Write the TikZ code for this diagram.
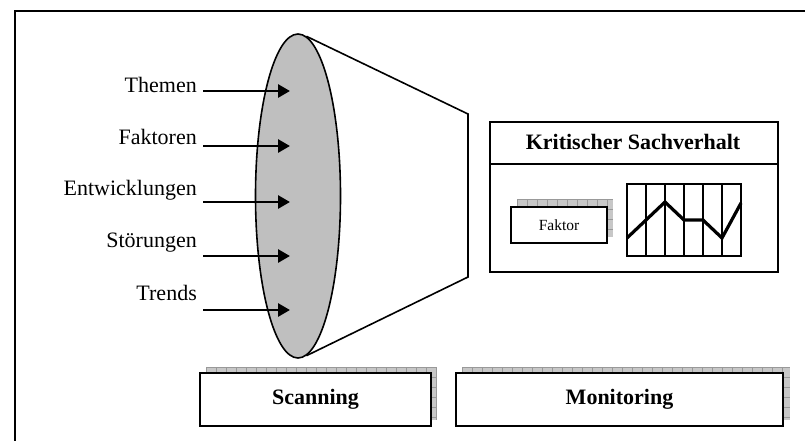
\documentclass[tikz,border=0pt]{standalone}
\usepackage{fontspec}
\setmainfont{Liberation Serif}
\usetikzlibrary{arrows.meta,shapes.geometric}
\tikzset{
  lbl/.style={inner sep=0pt, font=\fontsize{22}{26}\selectfont},
  feed/.style={line width=2.8pt, -{Triangle[length=12pt,width=13pt]}},
  panel/.style={draw, line width=2pt, fill=white, inner sep=0pt},
  boldtxt/.style={font=\bfseries\fontsize{22}{26}\selectfont},
}
% gerasterter Schatten hinter einem Kasten
\newcommand{\gridshadow}[4]{%
  \begin{scope}
    \clip (#1,#2) rectangle (#3,#4);
    \fill[black!22] (#1,#2) rectangle (#3,#4);
    \foreach \k in {0,...,34} \draw[black!40, line width=0.6pt] (#1+\k*10,#2) -- (#1+\k*10,#4);
    \foreach \k in {0,...,6} \draw[black!40, line width=0.6pt] (#1,#2+\k*10) -- (#3,#2+\k*10);
  \end{scope}}
\begin{document}
\begin{tikzpicture}[x=1pt,y=-1pt]
\useasboundingbox (0,0) rectangle (805,440);
\clip (0,0) rectangle (805,440);
\draw[line width=1.8pt] (15,11) rectangle (815,450);

% Linse mit Trichter
\node[ellipse, draw, line width=1.6pt, fill=black!25, minimum width=85pt, minimum height=324pt, inner sep=0pt] (lens) at (298,196) {};
\coordinate (funtop) at (468,114);
\coordinate (funbot) at (468,277);
\draw[line width=1.6pt] (lens.87) -- (funtop) -- (funbot) -- (lens.-87);

% Eingaenge
\foreach \name/\txt/\ty/\ay in {themen/Themen/92/91, faktoren/Faktoren/144/146, entw/Entwicklungen/195/202, stoer/Störungen/247/256, trends/Trends/300/310}{
  \node[lbl, anchor=base east] (\name) at (197,\ty) {\txt};
  \coordinate (\name-in) at (290,\ay);
  \draw[feed, shorten <=6pt] (\name.east |- \name-in) -- (\name-in);
}

% Kritischer Sachverhalt
\node[panel, minimum width=288pt, minimum height=150pt, anchor=north west] (krit) at (489,121) {};
\draw[line width=2pt] ([yshift=-43pt]krit.north west) -- ([yshift=-43pt]krit.north east);
\node[boldtxt] (kritTitle) at (633,142) {Kritischer Sachverhalt};
\gridshadow{517}{199}{613}{237}
\node[panel, minimum width=96pt, minimum height=36pt, font=\fontsize{15.5}{18}\selectfont] (faktor) at (559,225) {Faktor};

% Verlauf
\draw[line width=1.6pt] (627,184) rectangle (741,256);
\foreach \gx in {646,665,684,703,722} \draw[line width=1.6pt] (\gx,184) -- (\gx,256);
\draw[line width=3.2pt] (627,238) -- (665,202) -- (684,220) -- (703,220) -- (722,238) -- (741,203);

% Scanning / Monitoring
\gridshadow{206}{367}{437}{420}
\node[panel, boldtxt, minimum width=231pt, minimum height=53pt] (scan) at (315.5,399.5) {Scanning};
\gridshadow{462}{367}{790}{420}
\node[panel, boldtxt, minimum width=327pt, minimum height=53pt] (moni) at (619.5,399.5) {Monitoring};
\end{tikzpicture}
\end{document}
